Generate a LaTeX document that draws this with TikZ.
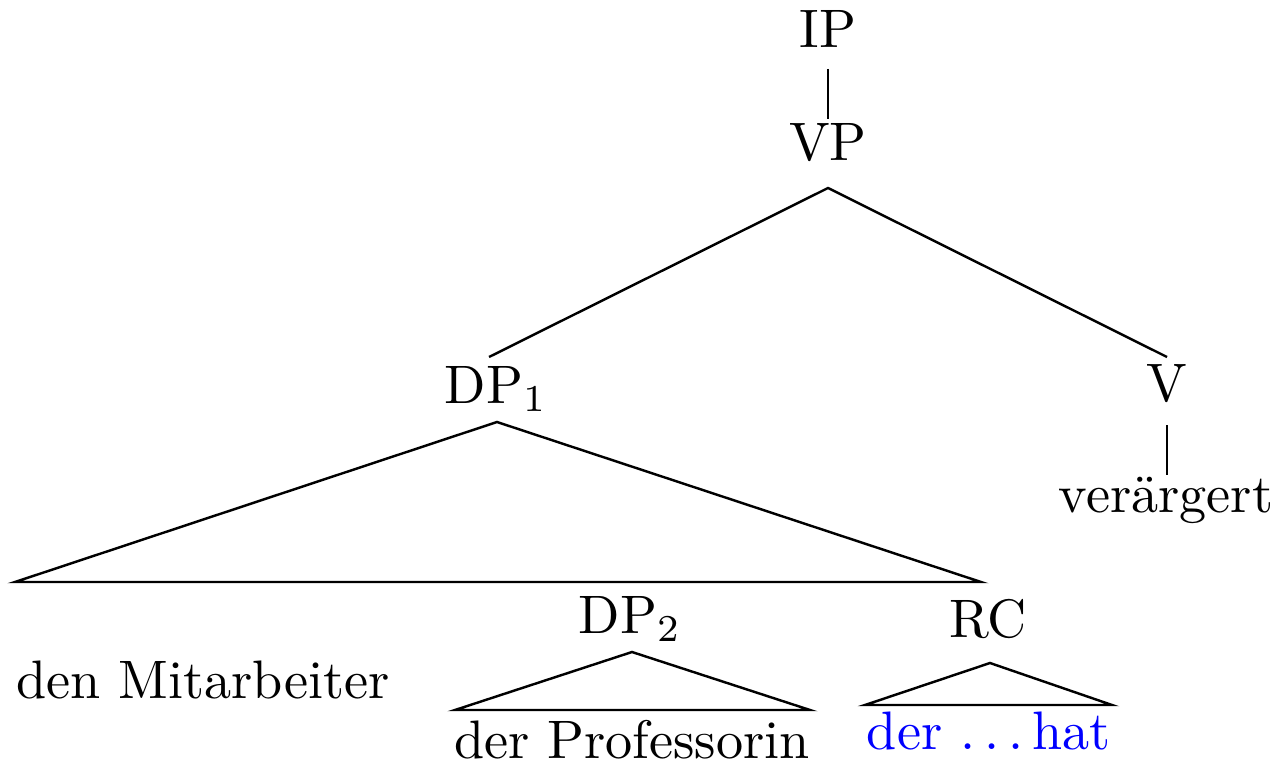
\documentclass[tikz,border=0pt]{standalone}
\begin{document}
\begin{tikzpicture}[x=0.1845pt,y=-0.1845pt,
  lbl/.style={inner sep=0pt,anchor=base},
  edge/.style={line width=0.45pt}]
\useasboundingbox (0,0) rectangle (1283,765);
% labels
\node[lbl] (IP) at (828,48) {IP};
\node[lbl] (VP) at (828,161) {VP};
\node[lbl] (DP1) at (496,403) {DP$_1$};
\node[lbl] (V) at (1167,402) {V};
\node[lbl] (verg) at (1166,512) {ver\"argert};
\node[lbl,anchor=base west] (mit) at (15,698) {den Mitarbeiter};
\node[lbl] (DP2) at (630,633) {DP$_2$};
\node[lbl] (RC) at (988,637) {RC};
\node[lbl] (prof) at (632,758) {der Professorin};
\node[lbl,text=blue] (hat) at (989,749) {der $\ldots$\,hat};
% connector points
\coordinate (ipb) at (828,69);
\coordinate (vpt) at (828,119);
\coordinate (vpa) at (828,188);
\coordinate (dp1t) at (489,357);
\coordinate (vt) at (1167,357);
\coordinate (vb) at (1167,425);
\coordinate (vergt) at (1167,475);
\coordinate (dp1a) at (497,422);
\coordinate (dp1l) at (15,582);
\coordinate (dp1r) at (981,582);
\coordinate (dp2a) at (632,652);
\coordinate (dp2l) at (455,710);
\coordinate (dp2r) at (810,710);
\coordinate (rca) at (990,663);
\coordinate (rcl) at (865,705);
\coordinate (rcr) at (1112,705);
% edges
\draw[edge] (ipb) -- (vpt);
\draw[edge] (dp1t) -- (vpa) -- (vt);
\draw[edge] (vb) -- (vergt);
\draw[edge] (dp1a) -- (dp1l) -- (dp1r) -- cycle;
\draw[edge] (dp2a) -- (dp2l) -- (dp2r) -- cycle;
\draw[edge] (rca) -- (rcl) -- (rcr) -- cycle;
\end{tikzpicture}
\end{document}
